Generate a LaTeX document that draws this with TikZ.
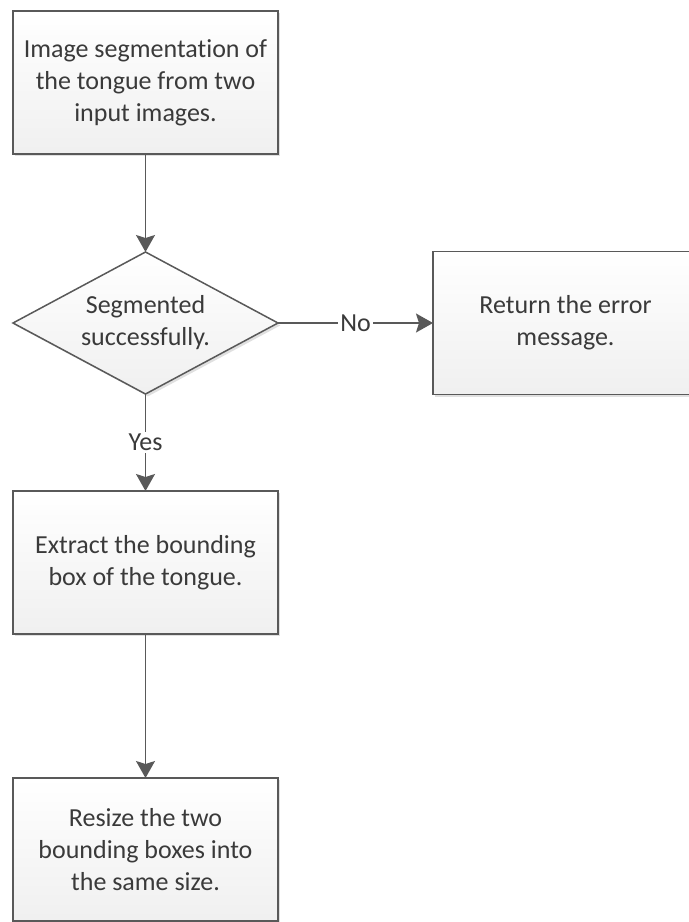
\documentclass[tikz,border=0pt]{standalone}
\usepackage{fontspec}
\setmainfont{Carlito}[RawFeature={-liga;-clig;-dlig}]
\usetikzlibrary{positioning,arrows.meta,shapes.geometric,shadows}
\definecolor{cLine}{HTML}{595959}
\definecolor{cText}{HTML}{3A3A3A}
\tikzset{
  base/.style   ={draw=cLine, line width=0.75pt, align=center, text=cText,
                  font=\fontsize{13}{16}\selectfont, inner sep=0pt, outer sep=0pt,
                  top color=white, bottom color=black!6,
                  drop shadow={shadow xshift=1.2pt, shadow yshift=-1.2pt, opacity=0.2, fill=black!60}},
  procbox/.style={base, rectangle, minimum width=132.5pt, minimum height=71.5pt},
  decide/.style ={base, diamond, aspect=1.87, minimum width=132.5pt, minimum height=71pt},
  arr/.style    ={-{Stealth[length=8.5pt, width=9.5pt, inset=1.5pt]}, draw=cLine, line width=0.75pt},
  lbl/.style    ={font=\fontsize{13}{16}\selectfont, text=cText, fill=white, inner sep=1pt},
}
\begin{document}
\begin{tikzpicture}[node distance=49pt and 77.5pt]
\path[use as bounding box, clip] (0,0) rectangle (344.5pt,-461pt);

\node[procbox] (seg) at (72.75pt,-41.25pt)
   {Image segmentation of\\ the tongue from two\\ input images.};
\node[decide, below=of seg] (ok) {Segmented\\ successfully.};
\node[procbox, right=of ok] (err) {Return the error\\ message.};
\node[procbox, below=48.5pt of ok] (bbox) {Extract the bounding\\ box of the tongue.};
\node[procbox, below=72pt of bbox] (resize)
   {Resize the two\\ bounding boxes into\\ the same size.};

\draw[arr] (seg)--(ok);
\draw[arr] (ok)--node[lbl]{No} (err);
\draw[arr] (ok)--node[lbl]{Yes} (bbox);
\draw[arr] (bbox)--(resize);
\end{tikzpicture}
\end{document}
